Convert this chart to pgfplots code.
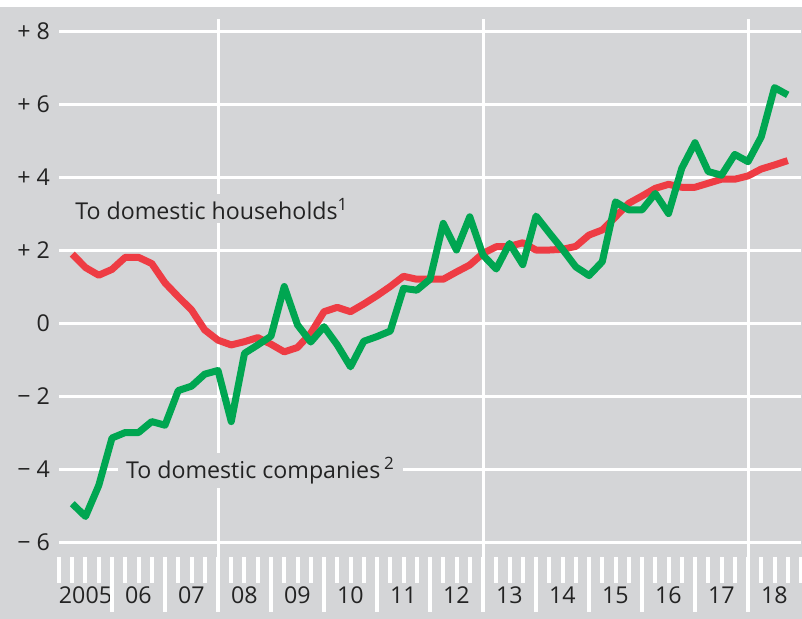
\documentclass[border=0pt]{standalone}
\usepackage{pgfplots}
\pgfplotsset{compat=1.18}
\usepackage{pgfplotstable}
\usepackage{fontspec}
\setmainfont{Open Sans}
\definecolor{bg}{RGB}{212,213,215}
\definecolor{grn}{RGB}{0,166,81}
\definecolor{rd}{RGB}{238,60,68}
\definecolor{txt}{RGB}{35,35,35}

\pgfplotstableread{
x comp hh
2005.25 -4.95 1.89
2005.50 -5.30 1.52
2005.75 -4.45 1.31
2006.00 -3.15 1.47
2006.25 -3.00 1.80
2006.50 -3.00 1.80
2006.75 -2.70 1.63
2007.00 -2.80 1.10
2007.25 -1.85 0.72
2007.50 -1.73 0.36
2007.75 -1.40 -0.19
2008.00 -1.30 -0.47
2008.25 -2.70 -0.60
2008.50 -0.83 -0.51
2008.75 -0.60 -0.40
2009.00 -0.36 -0.58
2009.25 1.00 -0.79
2009.50 -0.05 -0.67
2009.75 -0.52 -0.28
2010.00 -0.10 0.31
2010.25 -0.60 0.43
2010.50 -1.20 0.31
2010.75 -0.50 0.52
2011.00 -0.37 0.75
2011.25 -0.22 1.00
2011.50 0.95 1.28
2011.75 0.90 1.20
2012.00 1.20 1.20
2012.25 2.73 1.20
2012.50 2.00 1.40
2012.75 2.91 1.59
2013.00 1.86 1.91
2013.25 1.48 2.09
2013.50 2.18 2.10
2013.75 1.60 2.20
2014.00 2.93 2.00
2014.25 2.47 2.00
2014.50 2.02 2.02
2014.75 1.54 2.10
2015.00 1.30 2.41
2015.25 1.68 2.55
2015.50 3.32 2.91
2015.75 3.10 3.28
2016.00 3.10 3.48
2016.25 3.55 3.69
2016.50 3.00 3.80
2016.75 4.24 3.72
2017.00 4.94 3.72
2017.25 4.15 3.83
2017.50 4.05 3.94
2017.75 4.62 3.94
2018.00 4.42 4.03
2018.25 5.10 4.22
2018.50 6.45 4.33
2018.75 6.25 4.45
}\datatable

\begin{document}
\begin{tikzpicture}
\fill[white] (0,0) rectangle (401pt,309.5pt);
\fill[bg] (0,0) rectangle (401pt,306pt);
\useasboundingbox (0,0) rectangle (401pt,309.5pt);
\begin{axis}[
  at={(29.5pt,31pt)}, anchor=south west,
  width=371pt, height=269pt, scale only axis,
  xmin=2005, xmax=2019, ymin=-6.41, ymax=8.33,
  axis line style={draw=none},
  ytick={-6,-4,-2,0,2,4,6,8},
  yticklabels={− 6,− 4,− 2,0,+ 2,+ 4,+ 6,+ 8},
  ymajorgrids, grid style={white, line width=1.5pt},
  xtick={2005.5,2006.5,...,2018.5},
  xticklabels={2005,06,07,08,09,10,11,12,13,14,15,16,17,18},
  minor xtick={2005,2005.25,...,2019},
  major tick length=0pt,
  minor tick length=13pt,
  tick align=outside,
  xtick pos=bottom, ytick pos=left,
  minor tick style={white, line width=2pt},
  extra x ticks={2006,2007,...,2018},
  extra x tick labels={},
  extra x tick style={major tick length=27.5pt, major tick style={white, line width=2pt}},
  tick label style={font=\fontsize{11.6}{13}\selectfont, text=txt},
  xticklabel style={yshift=-11.5pt},
  yticklabel style={xshift=-1pt},
  clip=false,
]
\draw[white, line width=1.5pt] (axis cs:2008,-6.41) -- (axis cs:2008,8.33);
\draw[white, line width=1.5pt] (axis cs:2013,-6.41) -- (axis cs:2013,8.33);
\draw[white, line width=1.5pt] (axis cs:2018,-6.41) -- (axis cs:2018,8.33);
\node[anchor=base west, fill=bg, inner xsep=4pt, inner ysep=2pt, font=\fontsize{11.6}{13}\selectfont, text=txt] at (axis cs:2005.151,2.85) {To domestic households\textsuperscript{\fontsize{8.5}{9}\selectfont 1}};
\node[anchor=base west, fill=bg, inner xsep=4pt, inner ysep=2pt, font=\fontsize{11.6}{13}\selectfont, text=txt] at (axis cs:2006.108,-4.25) {To domestic companies\,\textsuperscript{\fontsize{8.5}{9}\selectfont 2}};
\addplot[rd, line width=3.5pt, line join=round] table[x=x, y=hh] {\datatable};
\addplot[grn, line width=3.5pt, line join=round] table[x=x, y=comp] {\datatable};
\end{axis}
\end{tikzpicture}
\end{document}
